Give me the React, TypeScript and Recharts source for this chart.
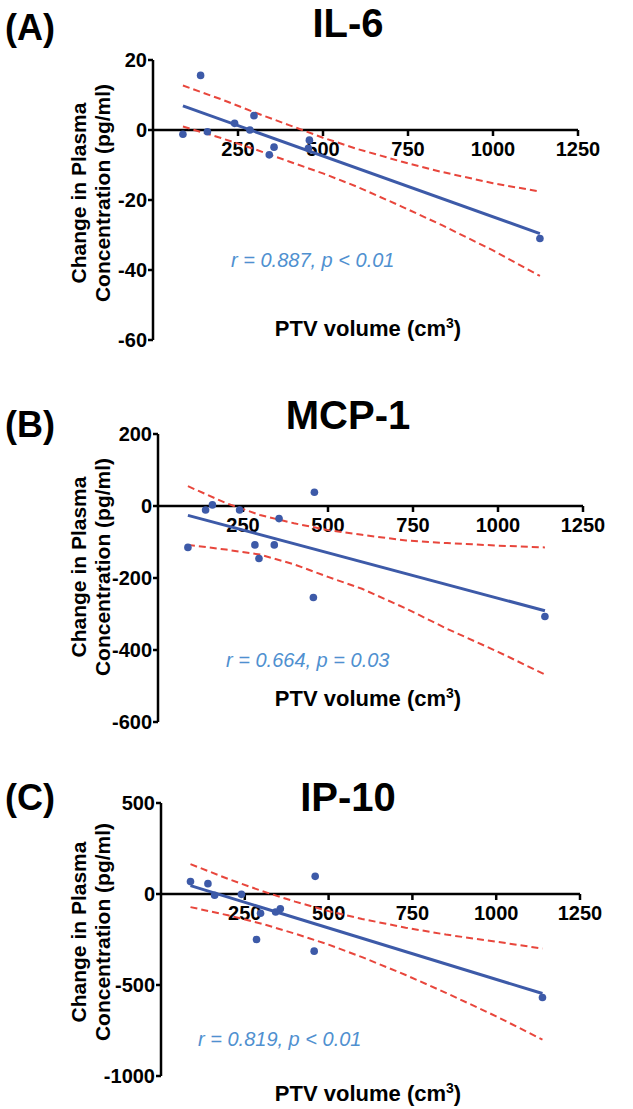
import { ReferenceDot, ReferenceLine, Scatter, ScatterChart, XAxis, YAxis } from "recharts";

const FONT = "'Liberation Sans', Arial, Helvetica, sans-serif";
const BLUE = "#3d5aa8";
const RED = "#e8463c";
const TEXT_BLUE = "#4f90d0";

// PTV volume (cm3) of each patient, same in all three panels
const ptvVolume = [88, 140, 160, 240, 285, 297, 342, 356, 460, 457, 1138];
const xTicks = [250, 500, 750, 1000, 1250];
const fitX = [88, 1138];
const ciX = [88, 200, 300, 400, 500, 600, 730, 850, 1000, 1138];

// (A) IL-6
const il6Change = [-1.2, 15.6, -0.5, 1.9, 0, 4.1, -7.1, -4.9, -2.9, -5.2, -31];
const il6Fit = [6.9, -29.6];
const il6Upper = [12.7, 8.8, 5.0, 1.4, -2.2, -5.4, -9.0, -12.0, -15.2, -17.6];
const il6Lower = [1.0, -2.3, -5.5, -9.0, -12.4, -16.2, -21.8, -27.2, -34.4, -41.7];
const il6Ticks = [-60, -40, -20, 0, 20];

// (B) MCP-1
const mcpChange = [-115, -11, 3, -11, -108, -146, -108, -35, 38, -254, -307];
const mcpFit = [-26, -291];
const mcpUpper = [55, 8, -25, -48, -67, -80, -96, -103, -110, -115];
const mcpLower = [-108, -121, -135, -162, -197, -230, -285, -341, -405, -468];
const mcpTicks = [-600, -400, -200, 0, 200];

// (C) IP-10
const ipChange = [68, 57, -7, -2, -250, -106, -99, -81, 97, -314, -569];
const ipFit = [46, -547];
const ipUpper = [164, 83, 17, -42, -94, -137, -185, -223, -262, -300];
const ipLower = [-72, -117, -163, -218, -278, -347, -445, -543, -672, -800];
const ipTicks = [-1000, -500, 0, 500];

const zip = (xs: number[], ys: number[]) => xs.map((x, i) => ({ x, y: ys[i] }));

type PanelProps = {
  letter: string;
  title: string;
  stat: string;
  top: number;
  height: number;
  margin: { top: number; right: number; bottom: number; left: number };
  yWidth: number;
  yTicks: number[];
  points: { x: number; y: number }[];
  fit: { x: number; y: number }[];
  upper: { x: number; y: number }[];
  lower: { x: number; y: number }[];
  letterY: number;
  titleY: number;
  yLabelY: number;
  xLabelY: number;
  statX: number;
  statY: number;
};

function XTickMark(props: any) {
  const { cx, cy, label } = props;
  return (
    <g>
      <line x1={cx} y1={cy} x2={cx} y2={cy + 6} stroke="#000" strokeWidth={2.5} />
      <text
        x={cx}
        y={cy + 26}
        textAnchor="middle"
        fontFamily={FONT}
        fontWeight={700}
        fontSize={20}
        fill="#000"
      >
        {label}
      </text>
    </g>
  );
}

const dot = (p: any) => <circle cx={p.cx} cy={p.cy} r={3.8} fill={BLUE} />;
const noDot = () => <g />;

function Panel(p: PanelProps) {
  const dom: [number, number] = [p.yTicks[0], p.yTicks[p.yTicks.length - 1]];
  return (
    <div style={{ position: "absolute", left: 0, top: p.top, width: 633, height: p.height }}>
      <ScatterChart width={633} height={p.height} margin={p.margin}>
        <XAxis type="number" dataKey="x" domain={[0, 1250]} hide allowDataOverflow />
        <YAxis
          type="number"
          dataKey="y"
          domain={dom}
          ticks={p.yTicks}
          interval={0}
          width={p.yWidth}
          allowDataOverflow
          axisLine={{ stroke: "#000", strokeWidth: 2.5 }}
          tickLine={{ stroke: "#000", strokeWidth: 2.5 }}
          tickSize={5}
          tickMargin={1}
          tick={{ fill: "#000", fontSize: 20, fontWeight: 700, fontFamily: FONT }}
        />
        <ReferenceLine y={0} stroke="#000" strokeWidth={2.5} />
        {xTicks.map((t) => (
          <ReferenceDot
            key={t}
            x={t}
            y={0}
            r={0}
            shape={(sp: any) => <XTickMark {...sp} label={t} />}
          />
        ))}
        <Scatter
          data={p.upper}
          line={{ stroke: RED, strokeWidth: 2, strokeDasharray: "7 4" }}
          shape={noDot}
          isAnimationActive={false}
        />
        <Scatter
          data={p.lower}
          line={{ stroke: RED, strokeWidth: 2, strokeDasharray: "7 4" }}
          shape={noDot}
          isAnimationActive={false}
        />
        <Scatter
          data={p.fit}
          line={{ stroke: BLUE, strokeWidth: 3 }}
          shape={noDot}
          isAnimationActive={false}
        />
        <Scatter data={p.points} shape={dot} isAnimationActive={false} />
      </ScatterChart>

      <div
        style={{
          position: "absolute",
          left: 5,
          top: p.letterY,
          transform: "translateY(-50%)",
          font: `700 36px/1 ${FONT}`,
        }}
      >
        {p.letter}
      </div>
      <div
        style={{
          position: "absolute",
          left: 348,
          top: p.titleY,
          transform: "translate(-50%, -50%)",
          font: `700 40px/1 ${FONT}`,
          whiteSpace: "nowrap",
        }}
      >
        {p.title}
      </div>
      <div
        style={{
          position: "absolute",
          left: 91,
          top: p.yLabelY,
          transform: "translate(-50%, -50%) rotate(-90deg)",
          font: `700 21px/24px ${FONT}`,
          textAlign: "center",
          whiteSpace: "nowrap",
        }}
      >
        Change in Plasma
        <br />
        Concentration (pg/ml)
      </div>
      <div
        style={{
          position: "absolute",
          left: 368,
          top: p.xLabelY,
          transform: "translate(-50%, -50%)",
          font: `700 22px/1 ${FONT}`,
          whiteSpace: "nowrap",
        }}
      >
        PTV volume (cm<sup style={{ fontSize: 14 }}>3</sup>)
      </div>
      <div
        style={{
          position: "absolute",
          left: p.statX,
          top: p.statY,
          transform: "translateY(-50%)",
          font: `italic 400 20px/1 ${FONT}`,
          color: TEXT_BLUE,
          whiteSpace: "nowrap",
        }}
      >
        {p.stat}
      </div>
    </div>
  );
}

export default function App() {
  return (
    <div
      style={{
        position: "absolute",
        left: 0,
        top: 0,
        width: 633,
        height: 1109,
        background: "#fff",
        overflow: "hidden",
      }}
    >
      <Panel
        letter="(A)"
        title="IL-6"
        stat="r = 0.887, p < 0.01"
        top={0}
        height={370}
        margin={{ top: 60, right: 55, bottom: 30, left: 0 }}
        yWidth={153}
        yTicks={il6Ticks}
        points={zip(ptvVolume, il6Change)}
        fit={zip(fitX, il6Fit)}
        upper={zip(ciX, il6Upper)}
        lower={zip(ciX, il6Lower)}
        letterY={28}
        titleY={23}
        yLabelY={193}
        xLabelY={328}
        statX={231}
        statY={260}
      />
      <Panel
        letter="(B)"
        title="MCP-1"
        stat="r = 0.664, p = 0.03"
        top={370}
        height={370}
        margin={{ top: 64, right: 50, bottom: 18, left: 0 }}
        yWidth={158}
        yTicks={mcpTicks}
        points={zip(ptvVolume, mcpChange)}
        fit={zip(fitX, mcpFit)}
        upper={zip(ciX, mcpUpper)}
        lower={zip(ciX, mcpLower)}
        letterY={55}
        titleY={45}
        yLabelY={197}
        xLabelY={328}
        statX={226}
        statY={290}
      />
      <Panel
        letter="(C)"
        title="IP-10"
        stat="r = 0.819, p < 0.01"
        top={740}
        height={369}
        margin={{ top: 63, right: 53, bottom: 33, left: 0 }}
        yWidth={161}
        yTicks={ipTicks}
        points={zip(ptvVolume, ipChange)}
        fit={zip(fitX, ipFit)}
        upper={zip(ciX, ipUpper)}
        lower={zip(ciX, ipLower)}
        letterY={58}
        titleY={57}
        yLabelY={192}
        xLabelY={353}
        statX={198}
        statY={299}
      />
    </div>
  );
}
